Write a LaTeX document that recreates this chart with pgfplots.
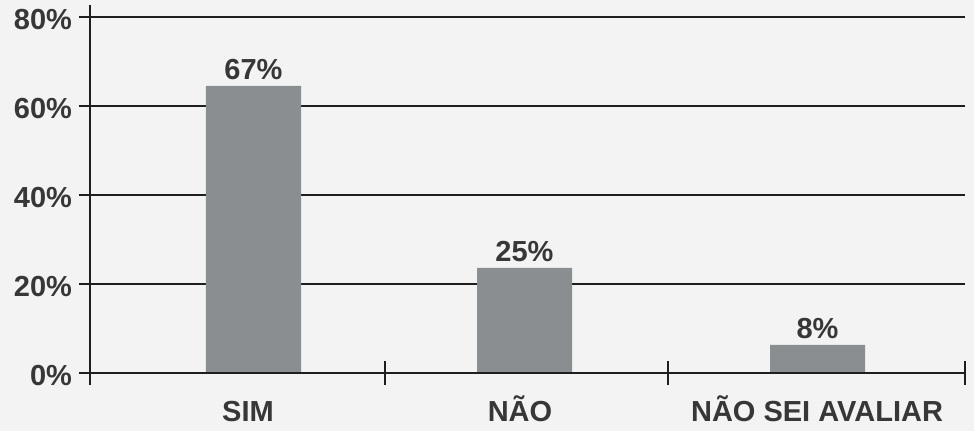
\documentclass[border=0pt]{standalone}
\usepackage{pgfplots}
\pgfplotsset{compat=1.18}
\usetikzlibrary{calc}
\usepackage{fontspec}
\setmainfont{Liberation Sans}
\pgfdeclarelayer{bgl}
\pgfsetlayers{bgl,main}
\definecolor{bgc}{RGB}{243,243,243}
\definecolor{barc}{RGB}{139,142,144}
\definecolor{txt}{RGB}{55,55,55}
\definecolor{ln}{RGB}{30,30,30}
\begin{document}
\begin{tikzpicture}
\begin{axis}[
    scale only axis,
    width=437.5pt, height=178pt,
    xmin=0, xmax=875,
    ymin=0, ymax=80,
    axis line style={draw=none},
    clip=false,
    xtick pos=bottom, ytick pos=left,
    ymajorgrids,
    grid style={ln, line width=1pt},
    ytick={0,20,40,60,80},
    yticklabels={0\%,20\%,40\%,60\%,80\%},
    ytick style={ln, line width=1pt},
    ytick align=outside,
    major tick length=5.5pt,
    yticklabel style={font=\bfseries\fontsize{14.5}{16}\selectfont, text=txt, yshift=-1.5pt},
    xtick={158,430,727},
    xticklabels={SIM,NÃO,NÃO SEI AVALIAR},
    xtick style={draw=none},
    xticklabel style={font=\bfseries\fontsize{14.5}{16}\selectfont, text=txt, anchor=base, yshift=-24.5pt},
    extra x ticks={0,295,578,875},
    extra x tick labels={},
    extra x tick style={tick align=center, xtick style={draw=ln, line width=1pt, /pgfplots/major tick length=12pt}},
    /pgf/number format/assume math mode=true,
]
\addplot[ybar, bar width=95, fill=barc, draw=none,
    point meta=explicit symbolic,
    nodes near coords,
    nodes near coords style={font=\bfseries\fontsize{14.5}{16}\selectfont, text=txt, anchor=south, inner sep=1pt, yshift=2pt}]
    coordinates {(163.5,64.5) [67\%] (434.5,23.6) [25\%] (727.5,6.3) [8\%]};
\draw[ln, line width=1pt] (axis cs:0,-2.7) -- (axis cs:0,82.7);
\draw[ln, line width=1pt] (axis cs:0,0) -- (axis cs:875,0);
\coordinate (O) at (axis cs:0,0);
\end{axis}
\begin{pgfonlayer}{bgl}
\fill[bgc] ($(O)+(-45pt,-29pt)$) rectangle ($(O)+(442pt,186.5pt)$);
\end{pgfonlayer}
\pgfresetboundingbox
\path ($(O)+(-45pt,-29pt)$) rectangle ($(O)+(442pt,186.5pt)$);
\end{tikzpicture}
\end{document}
